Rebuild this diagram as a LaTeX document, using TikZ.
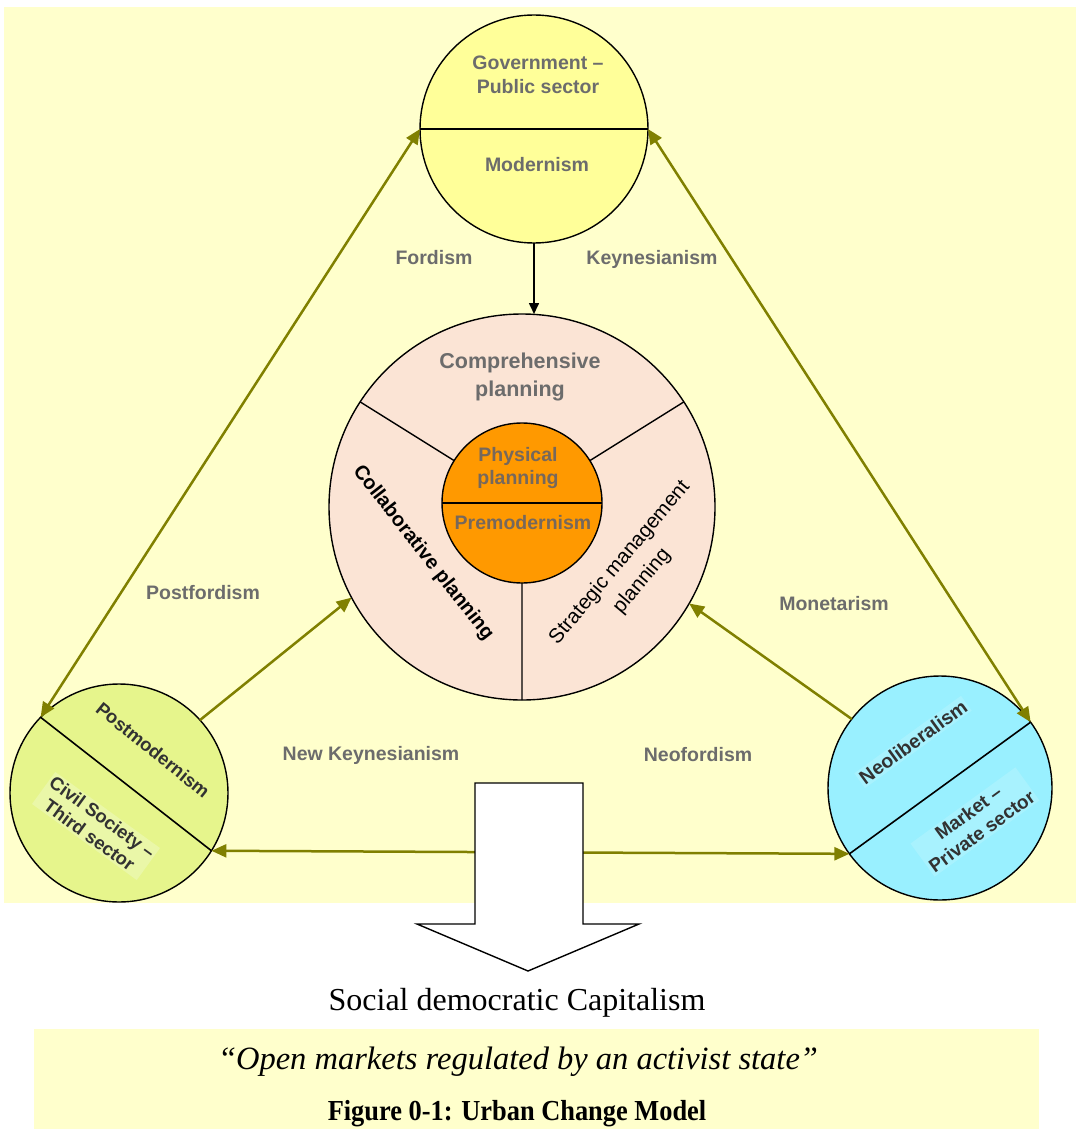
\documentclass[tikz,border=0pt]{standalone}
\usepackage{fontspec}
\setmainfont{Liberation Serif}
\newfontfamily\arialfont{Liberation Sans}
\usetikzlibrary{arrows.meta,calc}

\definecolor{bgyellow}{RGB}{255,255,204}
\definecolor{govfill}{RGB}{255,255,153}
\definecolor{planfill}{RGB}{251,228,213}
\definecolor{corefill}{RGB}{255,153,0}
\definecolor{civfill}{RGB}{230,245,140}
\definecolor{civlight}{RGB}{234,247,168}
\definecolor{mktfill}{RGB}{153,240,255}
\definecolor{mktlight}{RGB}{168,242,254}
\definecolor{olivearrow}{RGB}{128,128,0}
\definecolor{labelgray}{RGB}{108,108,108}
\definecolor{darktext}{RGB}{50,50,50}

\begin{document}
\begin{tikzpicture}[x=1pt,y=-1pt,
  circ/.style={circle, draw=black, line width=1.4pt, inner sep=0pt, outer sep=0pt},
  lbl/.style={text=labelgray, align=center, inner sep=0pt,
    font=\arialfont\bfseries\fontsize{19.5}{24}\selectfont},
  sectortxt/.style={text=darktext, align=center, inner sep=2pt,
    font=\arialfont\bfseries\fontsize{18.5}{22}\selectfont},
  link/.style={draw=olivearrow, line width=2.5pt,
    -{Triangle[length=15pt,width=13pt]}},
  duallink/.style={draw=olivearrow, line width=2.5pt,
    {Triangle[length=15pt,width=13pt]}-{Triangle[length=15pt,width=13pt]}},
  flow/.style={draw=black, line width=1.6pt, -{Triangle[length=11pt,width=10pt]}},
  serifline/.style={inner sep=0pt, font=\fontsize{32}{36}\selectfont}
]
\useasboundingbox (0,0) rectangle (1078,1129);

% backgrounds
\fill[bgyellow] (4,7) rectangle (1076,903);
\fill[bgyellow] (34,1029) rectangle (1039,1129);

% sector circles
\node[circ, fill=govfill, minimum size=228pt] (gov) at (534,129) {};
\node[circ, fill=planfill, minimum size=386pt] (plan) at (522,507) {};
\node[circ, fill=civfill, minimum size=218pt] (civ) at (119,793) {};
\node[circ, fill=mktfill, minimum size=224pt] (mkt) at (940,788) {};

% spokes of the planning wheel
\coordinate (hub) at (522,503);
\draw[line width=1.4pt] (plan.147) -- (hub) (plan.33) -- (hub) (plan.270) -- (hub);
\node[circ, fill=corefill, minimum size=160pt] (core) at (hub) {};

% dividing lines
\draw[line width=1.6pt] (gov.west) -- (gov.east);
\draw[line width=1.4pt] (core.west) -- (core.east);
\draw[line width=1.6pt] (civ.136) -- (civ.-32);
\draw[line width=1.6pt] (mkt.216.5) -- (mkt.36.5);

% texts inside the circles
\node[lbl] (govname) at (538,75) {Government –\\Public sector};
\node[lbl] (govera) at (537,165) {Modernism};
\node[lbl, font=\arialfont\bfseries\fontsize{21.5}{28}\selectfont] (comp) at (520,377) {Comprehensive\\planning};
\node[lbl, text={rgb,255:red,118;green,104;blue,92}, font=\arialfont\bfseries\fontsize{19.5}{23}\selectfont] (phys) at (518,468) {Physical\\planning};
\node[lbl, text={rgb,255:red,118;green,104;blue,92}] (premod) at (523,523) {Premodernism};
\node[inner sep=0pt, rotate=-52, font=\arialfont\bfseries\fontsize{20}{24}\selectfont] (collab) at (423,553) {Collaborative planning};
\node[inner sep=0pt, rotate=50, align=center, font=\arialfont\fontsize{20.5}{29}\selectfont] (strat) at (631,572) {Strategic management\\planning};

\node[sectortxt, rotate=-39] (postmod) at (153,750) {Postmodernism};
\node[sectortxt, rotate=-36, fill=civlight] (civname) at (96,826) {Civil Society –\\Third sector};
\node[sectortxt, rotate=36, fill=mktlight, font=\arialfont\bfseries\fontsize{19.5}{23}\selectfont] (neolib) at (913,742) {Neoliberalism};
\node[sectortxt, rotate=36, fill=mktlight, font=\arialfont\bfseries\fontsize{19}{23}\selectfont] (mktname) at (975,822) {Market –\\Private sector};

% connectors
\draw[duallink] (gov.west) -- (civ.136);
\draw[duallink] (gov.east) -- (mkt.36.5);
\draw[duallink] (civ.-32) -- (mkt.216.5);
\draw[link] (civ.42) -- (plan.208.8);
\draw[link] (mkt.142) -- (plan.330.7);
\draw[flow] (gov.south) -- (gov.south |- plan.north);

% connector labels
\node[lbl] (fordism) at (434,258) {Fordism};
\node[lbl] (keynes) at (652,259) {Keynesianism};
\node[lbl] (postford) at (203,593) {Postfordism};
\node[lbl] (monet) at (834,604) {Monetarism};
\node[lbl] (newkeynes) at (371,755) {New Keynesianism};
\node[lbl] (neoford) at (698,755) {Neofordism};

% outcome block arrow
\draw[fill=white, line width=1.4pt, line join=miter]
  (475,783) -- (583,783) -- (583,924) -- (639,924) -- (528,971)
  -- (417,924) -- (475,924) -- cycle;

% outcome texts
\node[serifline] (outcome) at (517,1003) {Social democratic Capitalism};
\node[serifline, font=\itshape\fontsize{32.5}{36}\selectfont] (motto) at (518,1062) {“Open markets regulated by an activist state”};
\node[inner sep=0pt, font=\bfseries\fontsize{29}{32}\selectfont] (caption) at (517,1114)
  {\scalebox{0.91}[1]{Figure 0-1: Urban Change Model}};
\end{tikzpicture}
\end{document}
